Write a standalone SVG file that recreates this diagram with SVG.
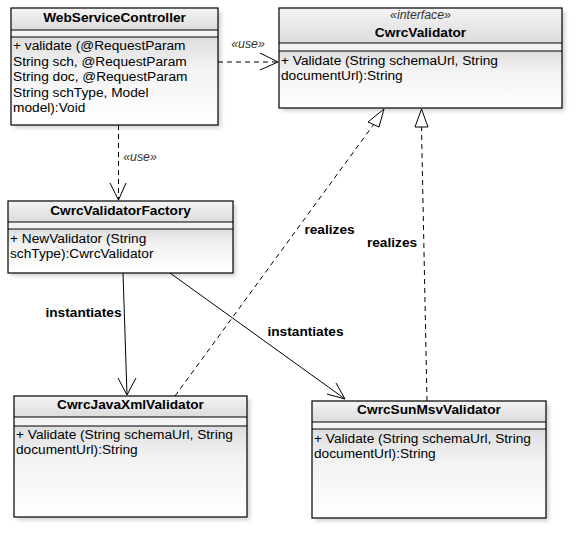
<svg xmlns="http://www.w3.org/2000/svg" width="577" height="534" viewBox="0 0 577 534">
<style>
.box{stroke:#000;stroke-width:1.2}
.hdr{fill:url(#gh)}
.bdy{fill:url(#gb)}
.ln{stroke:#000;stroke-width:1.2}
.t{font-family:"Liberation Sans",Arial,sans-serif;font-size:13.7px;fill:#000}
.b{font-weight:bold}
.st{font-family:"Liberation Sans",Arial,sans-serif;font-size:12.3px;font-style:italic;fill:#333}
.c{fill:none;stroke:#000;stroke-width:1}
.d{stroke-dasharray:5,4}
.sh{fill:#000;opacity:0.18}
</style>
<defs>
<linearGradient id="gh" x1="0" y1="0" x2="0" y2="1"><stop offset="0" stop-color="#f4f4f4"/><stop offset="1" stop-color="#dcdcdc"/></linearGradient>
<linearGradient id="gb" x1="0" y1="0" x2="0" y2="1"><stop offset="0" stop-color="#dedede"/><stop offset="0.35" stop-color="#f2f2f2"/><stop offset="1" stop-color="#ffffff"/></linearGradient>
<filter id="blur" x="-10%" y="-10%" width="120%" height="120%"><feGaussianBlur stdDeviation="2"/></filter>
</defs>

<g id="WebServiceController">
<rect class="sh" x="14" y="11" width="207" height="117" filter="url(#blur)"/>
<rect class="hdr" x="11" y="8" width="207" height="22"/>
<rect class="bdy" x="11" y="37" width="207" height="88"/>
<rect fill="#f4f4f4" x="11" y="30" width="207" height="7"/>
<rect class="box" fill="none" x="11" y="8" width="207" height="117"/>
<line class="ln" x1="11" y1="30" x2="218" y2="30"/>
<line class="ln" x1="11" y1="37" x2="218" y2="37"/>
<text class="t b" x="114.5" y="22" text-anchor="middle">WebServiceController</text>
<text class="t" x="13" y="50">+ validate (@RequestParam</text>
<text class="t" x="13" y="66">String sch, @RequestParam</text>
<text class="t" x="13" y="81">String doc, @RequestParam</text>
<text class="t" x="13" y="97">String schType, Model</text>
<text class="t" x="13" y="112">model):Void</text>
</g>

<g id="CwrcValidator">
<rect class="sh" x="282" y="11" width="283" height="100" filter="url(#blur)"/>
<rect class="hdr" x="279" y="8" width="283" height="35"/>
<rect fill="#f4f4f4" x="279" y="43" width="283" height="8"/>
<rect class="bdy" x="279" y="51" width="283" height="57"/>
<rect class="box" fill="none" x="279" y="8" width="283" height="100"/>
<line class="ln" x1="279" y1="43" x2="562" y2="43"/>
<line class="ln" x1="279" y1="51" x2="562" y2="51"/>
<text class="st" x="420.5" y="19" text-anchor="middle">«interface»</text>
<text class="t b" x="420.5" y="37" text-anchor="middle">CwrcValidator</text>
<text class="t" x="281" y="65">+ Validate (String schemaUrl, String</text>
<text class="t" x="281" y="80">documentUrl):String</text>
</g>

<g id="CwrcValidatorFactory">
<rect class="sh" x="11" y="204" width="225" height="72" filter="url(#blur)"/>
<rect class="hdr" x="8" y="201" width="225" height="21"/>
<rect fill="#f4f4f4" x="8" y="222" width="225" height="7"/>
<rect class="bdy" x="8" y="229" width="225" height="44"/>
<rect class="box" fill="none" x="8" y="201" width="225" height="72"/>
<line class="ln" x1="8" y1="222" x2="233" y2="222"/>
<line class="ln" x1="8" y1="229" x2="233" y2="229"/>
<text class="t b" x="120.5" y="215" text-anchor="middle">CwrcValidatorFactory</text>
<text class="t" x="10" y="243">+ NewValidator (String</text>
<text class="t" x="10" y="258">schType):CwrcValidator</text>
</g>

<g id="CwrcJavaXmlValidator">
<rect class="sh" x="17" y="399" width="233" height="121" filter="url(#blur)"/>
<rect class="hdr" x="14" y="396" width="233" height="21"/>
<rect fill="#f4f4f4" x="14" y="417" width="233" height="9"/>
<rect class="bdy" x="14" y="426" width="233" height="91"/>
<rect class="box" fill="none" x="14" y="396" width="233" height="121"/>
<line class="ln" x1="14" y1="417" x2="247" y2="417"/>
<line class="ln" x1="14" y1="426" x2="247" y2="426"/>
<text class="t b" x="130.5" y="409" text-anchor="middle">CwrcJavaXmlValidator</text>
<text class="t" x="16" y="439">+ Validate (String schemaUrl, String</text>
<text class="t" x="16" y="454">documentUrl):String</text>
</g>

<g id="CwrcSunMsvValidator">
<rect class="sh" x="315" y="404" width="234" height="117" filter="url(#blur)"/>
<rect class="hdr" x="312" y="401" width="234" height="21"/>
<rect fill="#f4f4f4" x="312" y="422" width="234" height="7"/>
<rect class="bdy" x="312" y="429" width="234" height="89"/>
<rect class="box" fill="none" x="312" y="401" width="234" height="117"/>
<line class="ln" x1="312" y1="422" x2="546" y2="422"/>
<line class="ln" x1="312" y1="429" x2="546" y2="429"/>
<text class="t b" x="429" y="414" text-anchor="middle">CwrcSunMsvValidator</text>
<text class="t" x="314" y="443">+ Validate (String schemaUrl, String</text>
<text class="t" x="314" y="458">documentUrl):String</text>
</g>

<g id="connectors">
<line class="c d" x1="218" y1="62" x2="278" y2="62"/>
<polyline class="c" points="260,53 278,62 260,70"/>
<text class="st" x="248" y="48" text-anchor="middle">«use»</text>
<line class="c d" x1="118.5" y1="125" x2="118.5" y2="200"/>
<polyline class="c" points="110,183 118.5,200 126,183"/>
<text class="st" x="140" y="161" text-anchor="middle">«use»</text>
<line class="c" x1="123" y1="273" x2="127" y2="395"/>
<polyline class="c" points="118,378 127,395 136,378"/>
<text class="t b" x="83.5" y="317" text-anchor="middle">instantiates</text>
<line class="c" x1="170" y1="273" x2="345" y2="399"/>
<polyline class="c" points="336,383 345,399 327,394"/>
<text class="t b" x="305.5" y="336" text-anchor="middle">instantiates</text>
<line class="c d" x1="175" y1="396" x2="374" y2="124"/>
<polygon fill="#fff" stroke="#000" stroke-width="1" points="384,109 368,122 379,127"/>
<text class="t b" x="329.5" y="234" text-anchor="middle">realizes</text>
<line class="c d" x1="427" y1="401" x2="421.5" y2="127"/>
<polygon fill="#fff" stroke="#000" stroke-width="1" points="421.5,109 415,127 428,127"/>
<text class="t b" x="392" y="247" text-anchor="middle">realizes</text>
</g>
</svg>
